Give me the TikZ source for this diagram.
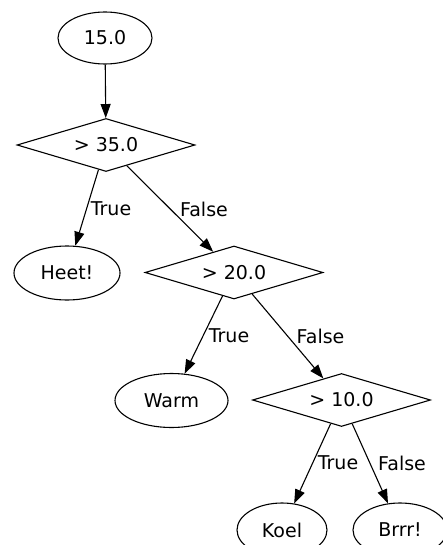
\documentclass[tikz,border=0pt]{standalone}
\usepackage{fontspec}
\setmainfont{DejaVu Sans}
\usetikzlibrary{shapes.geometric,arrows.meta}
\begin{document}
\begin{tikzpicture}[x=1pt,y=-1pt,
  every node/.style={font=\fontsize{19}{22}\selectfont},
  leaf/.style={draw,ellipse,inner sep=0pt,line width=1.1pt},
  test/.style={draw,diamond,aspect=3.4,inner sep=0pt,minimum width=178pt,minimum height=53pt,line width=1.1pt},
  lbl/.style={inner sep=0pt},
  conn/.style={line width=1.1pt,-{Triangle[length=14pt,width=10pt]}}]
\useasboundingbox (0,0) rectangle (443,545);
\node[leaf,minimum width=94pt,minimum height=52pt] (root) at (105,38) {15.0};
\node[test] (d1) at (106,145) {> 35.0};
\node[leaf,minimum width=106pt,minimum height=54pt] (heet) at (67,273) {Heet!};
\node[test] (d2) at (234,272.5) {> 20.0};
\node[leaf,minimum width=113pt,minimum height=54pt] (warm) at (171.5,400.5) {Warm};
\node[test] (d3) at (341.5,400) {> 10.0};
\node[leaf,minimum width=90pt,minimum height=54pt] (koel) at (282,530) {Koel};
\node[leaf,minimum width=94pt,minimum height=54pt] (brrr) at (400,530) {Brrr!};
\draw[conn] (root) -- (d1);
\draw[conn] (d1) -- (heet);
\draw[conn] (d1) -- (d2);
\draw[conn] (d2) -- (warm);
\draw[conn] (d2) -- (d3);
\draw[conn] (d3) -- (koel);
\draw[conn] (d3) -- (brrr);
\node[lbl] (l1) at (111,209) {True};
\node[lbl] (l2) at (204,209) {False};
\node[lbl] (l3) at (229,336) {True};
\node[lbl] (l4) at (320.5,336) {False};
\node[lbl] (l5) at (338,463) {True};
\node[lbl] (l6) at (402,463) {False};
\end{tikzpicture}
\end{document}
